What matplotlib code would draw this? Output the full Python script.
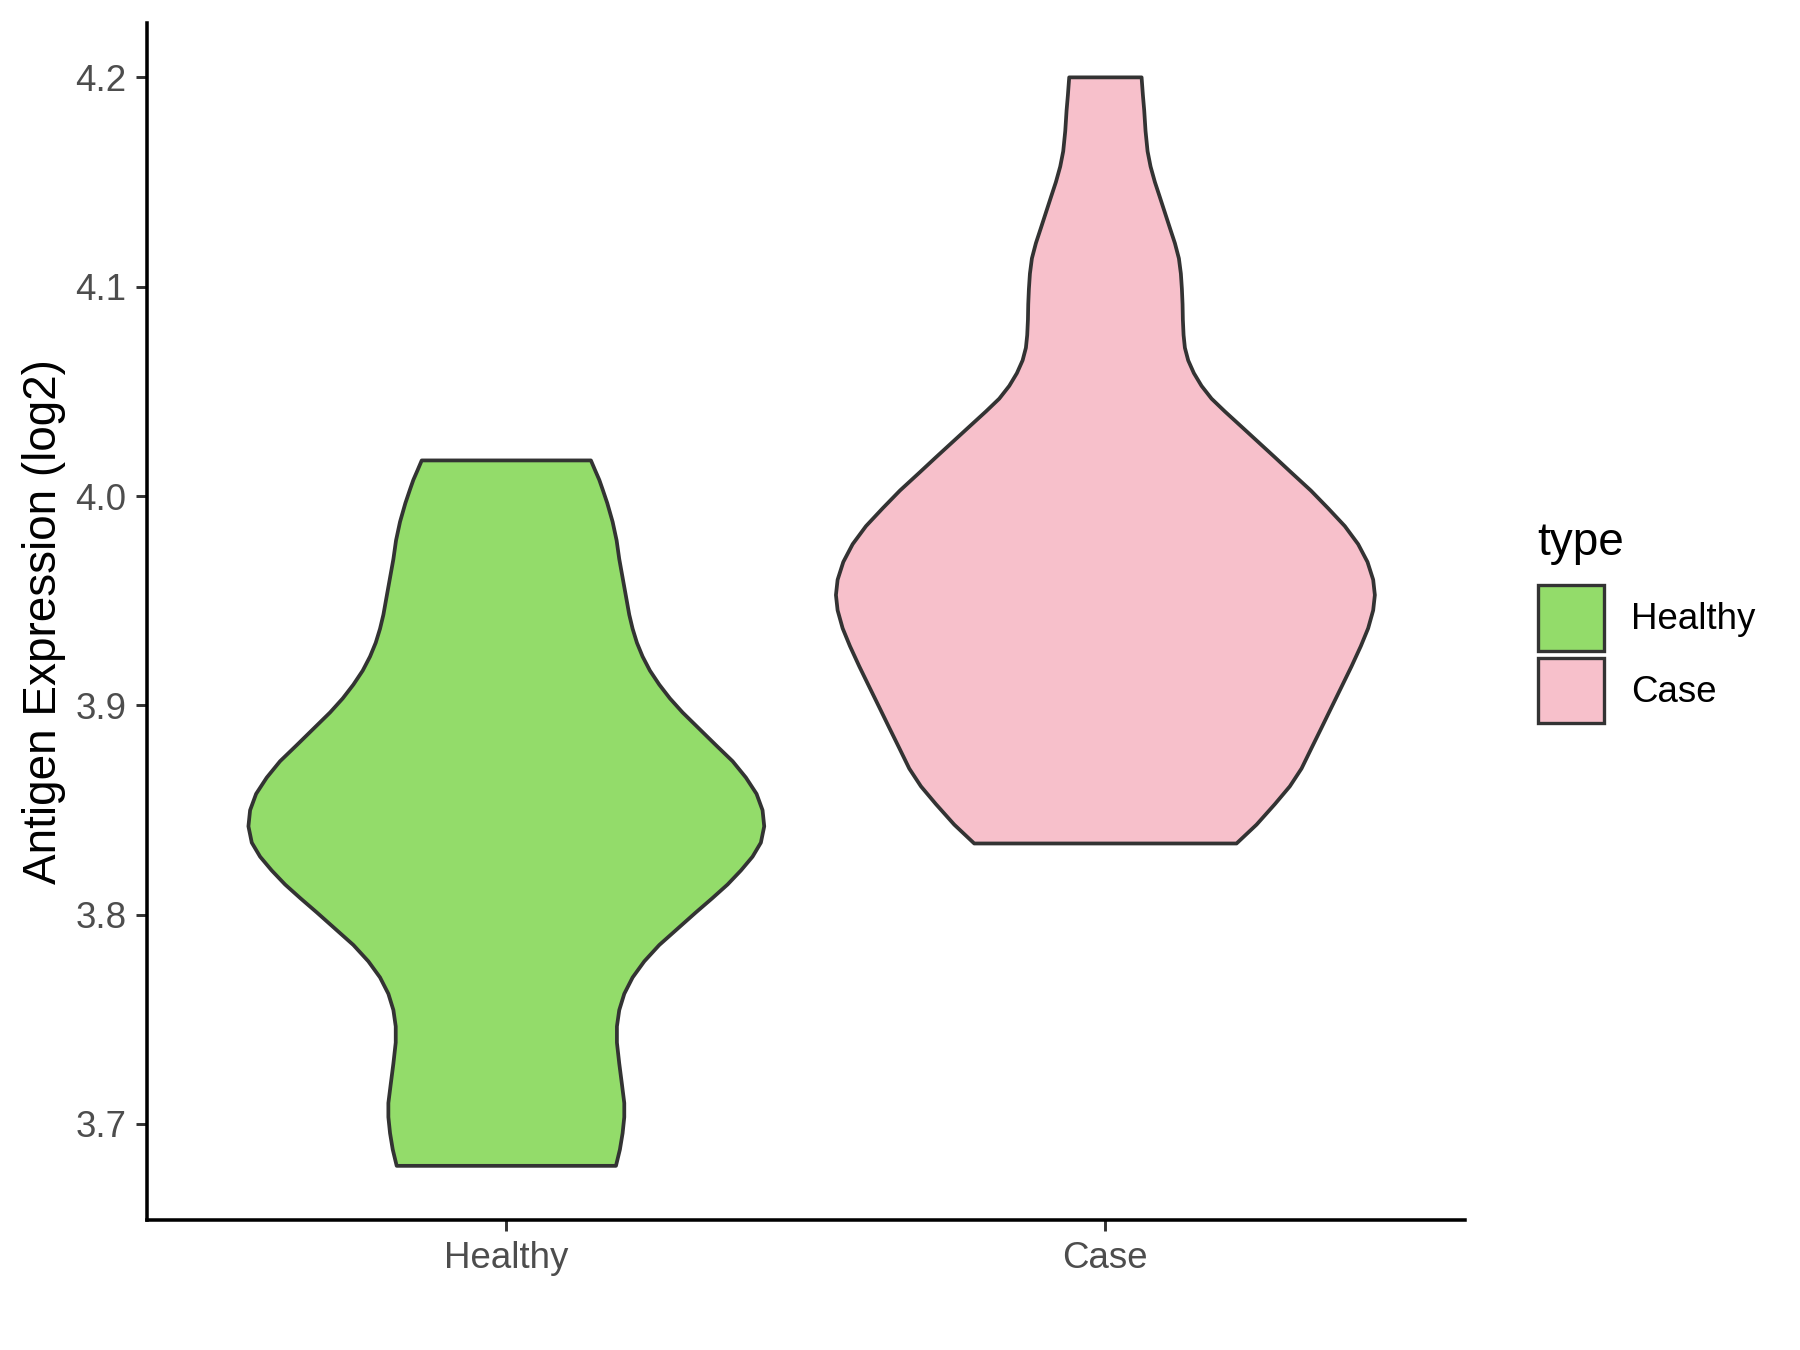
import matplotlib
matplotlib.use("Agg")
import matplotlib.pyplot as plt
from matplotlib.patches import Patch

plt.rcParams['font.family'] = ['Liberation Sans', 'DejaVu Sans']

groups = ["Healthy", "Case"]
fill_colors = ["#93DC6A", "#F7C0CB"]
edge_color = "#333333"

# violin outlines: expression level and half width (category units)
healthy_y = [4.0170, 4.0121, 4.0077, 4.0032, 3.9966, 3.9877, 3.9788, 3.9699, 3.9610, 3.9521,
             3.9433, 3.9366, 3.9299, 3.9233, 3.9166, 3.9099, 3.9033, 3.8966, 3.8888, 3.8810,
             3.8733, 3.8655, 3.8577, 3.8499, 3.8422, 3.8344, 3.8277, 3.8211, 3.8144, 3.8077,
             3.8011, 3.7933, 3.7855, 3.7777, 3.7700, 3.7622, 3.7544, 3.7466, 3.7389, 3.7289,
             3.7189, 3.7100, 3.7033, 3.6956, 3.6878, 3.6800]
healthy_w = [0.1412, 0.1485, 0.1552, 0.1607, 0.1685, 0.1774, 0.1841, 0.1885, 0.1941, 0.1997,
             0.2052, 0.2108, 0.2180, 0.2275, 0.2397, 0.2553, 0.2731, 0.2942, 0.3220, 0.3498,
             0.3777, 0.3999, 0.4177, 0.4277, 0.4305, 0.4249, 0.4110, 0.3916, 0.3693, 0.3432,
             0.3165, 0.2859, 0.2553, 0.2303, 0.2108, 0.1969, 0.1885, 0.1846, 0.1846, 0.1885,
             0.1930, 0.1969, 0.1969, 0.1941, 0.1896, 0.1830]

case_y = [4.2000, 4.1915, 4.1842, 4.1744, 4.1647, 4.1574, 4.1500, 4.1427, 4.1354, 4.1281,
          4.1208, 4.1135, 4.1062, 4.0989, 4.0916, 4.0843, 4.0769, 4.0708, 4.0648, 4.0587,
          4.0526, 4.0465, 4.0404, 4.0331, 4.0258, 4.0185, 4.0111, 4.0026, 3.9941, 3.9856,
          3.9770, 3.9685, 3.9600, 3.9527, 3.9454, 3.9368, 3.9283, 3.9186, 3.9088, 3.8991,
          3.8893, 3.8796, 3.8698, 3.8613, 3.8528, 3.8430, 3.8340]
case_w = [0.0604, 0.0626, 0.0648, 0.0670, 0.0704, 0.0754, 0.0826, 0.0910, 0.0993, 0.1076,
          0.1160, 0.1227, 0.1260, 0.1277, 0.1288, 0.1293, 0.1305, 0.1327, 0.1382, 0.1477,
          0.1605, 0.1772, 0.1994, 0.2273, 0.2551, 0.2829, 0.3107, 0.3430, 0.3719, 0.3997,
          0.4219, 0.4375, 0.4470, 0.4498, 0.4470, 0.4386, 0.4264, 0.4108, 0.3941, 0.3775,
          0.3608, 0.3441, 0.3274, 0.3079, 0.2829, 0.2523, 0.2189]

profiles = [(healthy_y, healthy_w), (case_y, case_w)]

fig = plt.figure(figsize=(6, 4.5), dpi=300)
ax = fig.add_axes([0.0816, 0.0961, 0.7322, 0.8869])

for i, (ys, ws) in enumerate(profiles):
    pos = i + 1
    xs = [pos - w for w in ws] + [pos + w for w in ws[::-1]]
    yy = list(ys) + list(ys[::-1])
    ax.fill(xs, yy, facecolor=fill_colors[i], edgecolor=edge_color, linewidth=0.9,
            joinstyle='round', zorder=2)

ax.set_xlim(0.4, 2.6)
ax.set_ylim(3.654, 4.226)
ax.set_xticks([1, 2])
ax.set_xticklabels(groups)
ax.set_yticks([3.7, 3.8, 3.9, 4.0, 4.1, 4.2])
ax.set_yticklabels(["3.7", "3.8", "3.9", "4.0", "4.1", "4.2"])

for s in ["top", "right"]:
    ax.spines[s].set_visible(False)
for s in ["left", "bottom"]:
    ax.spines[s].set_linewidth(0.85)
    ax.spines[s].set_color("black")
ax.tick_params(axis='both', length=2.75, width=0.7, color="#333333",
               labelsize=8.8, labelcolor="#4D4D4D", pad=2.2)

ax.set_ylabel("Antigen Expression (log2)", fontsize=11, color="black")
ax.yaxis.set_label_coords(-0.061, 0.5)

handles = [Patch(facecolor=fill_colors[i], edgecolor=edge_color, linewidth=0.8, label=g)
           for i, g in enumerate(groups)]
fig.legend(handles=handles, loc="upper left", bbox_to_anchor=(0.8546, 0.5667),
           frameon=False, fontsize=8.8, handlelength=1.8, handleheight=2.39,
           labelspacing=0.18, handletextpad=0.72, borderpad=0, borderaxespad=0)
fig.text(0.8541, 0.5889, "type", fontsize=11, ha="left", va="baseline")

fig.savefig("out.png", dpi=300)
